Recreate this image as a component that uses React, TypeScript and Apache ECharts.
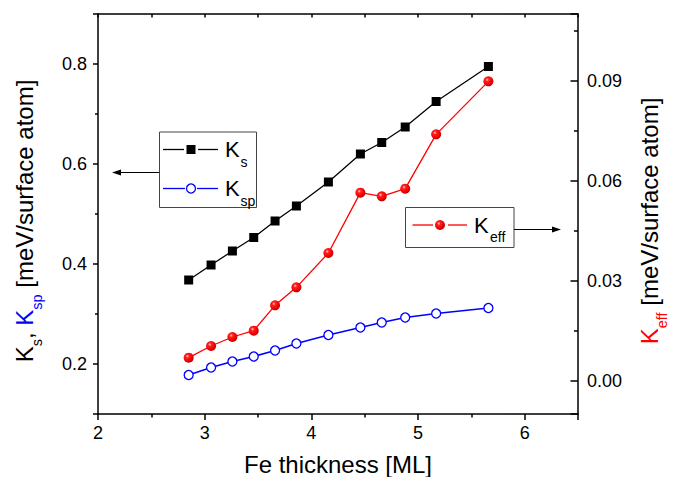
import React, { useEffect, useRef } from "react";
import * as echarts from "echarts";

const thickness = [2.85, 3.06, 3.26, 3.46, 3.66, 3.86, 4.16, 4.46, 4.66, 4.88, 5.17, 5.66];
const ksValues = [0.368, 0.398, 0.426, 0.453, 0.486, 0.516, 0.564, 0.62, 0.643, 0.674, 0.725, 0.795];
const kspValues = [0.178, 0.193, 0.205, 0.215, 0.227, 0.241, 0.258, 0.273, 0.283, 0.293, 0.301, 0.312];
const keffValues = [0.0069, 0.0104, 0.0131, 0.015, 0.0226, 0.028, 0.0383, 0.0564, 0.0553, 0.0576, 0.0739, 0.0898];

const FONT = "'Liberation Sans', Arial, Helvetica, sans-serif";

const sphere = {
  type: "radial",
  x: 0.38,
  y: 0.35,
  r: 0.7,
  colorStops: [
    { offset: 0, color: "#ffd0d0" },
    { offset: 0.25, color: "#ff2020" },
    { offset: 0.7, color: "#f00000" },
    { offset: 1, color: "#b00000" },
  ],
};

const pair = (ys: number[]) => thickness.map((x, i) => [x, ys[i]]);

export default function App() {
  const ref = useRef<HTMLDivElement>(null);
  useEffect(() => {
    if (!ref.current) return;
    const chart = echarts.init(ref.current, null, { renderer: "svg" });
    const axisLine = { show: true, onZero: false, lineStyle: { color: "#000", width: 1.5 } };
    const labelStyle = { color: "#000", fontSize: 18, fontFamily: FONT };
    const main = { fontSize: 24, fontFamily: FONT, fill: "#000", lineHeight: 40 };
    const sub = { fontSize: 14.5, fontFamily: FONT, fill: "#000", lineHeight: 14, verticalAlign: "bottom" };
    const Z = 20;
    const subText = (x: number, y: number, t: string, color: string) => ({
      type: "text",
      x,
      y,
      z: Z,
      style: { text: t, fontSize: 14, fontFamily: FONT, fill: color, verticalAlign: "middle", align: "left" },
    });
    const bigK = (x: number, y: number) => ({
      type: "text",
      x,
      y,
      z: Z,
      style: { text: "K", fontSize: 22, fontFamily: FONT, fill: "#000", verticalAlign: "middle", align: "left" },
    });
    const seg = (x1: number, x2: number, y: number, color: string) => ({
      type: "line",
      z: Z,
      shape: { x1, y1: y, x2, y2: y },
      style: { stroke: color, lineWidth: 1.3 },
    });
    chart.setOption({
      animation: false,
      grid: { left: 98, top: 14, right: 101, bottom: 63, containLabel: false },
      xAxis: [
        {
          type: "value",
          min: 2,
          max: 6.5,
          interval: 1,
          position: "bottom",
          axisLine,
          axisTick: { show: true, inside: false, length: 6, lineStyle: { color: "#000", width: 1.5 } },
          minorTick: { show: true, splitNumber: 2, length: 3.5, lineStyle: { color: "#000", width: 1.5 } },
          axisLabel: { ...labelStyle, margin: 10, showMaxLabel: false },
          splitLine: { show: false },
        },
        {
          type: "value",
          min: 2,
          max: 6.5,
          interval: 1,
          position: "top",
          axisLine,
          axisTick: { show: true, inside: true, length: 3.5, lineStyle: { color: "#000", width: 1.5 } },
          minorTick: { show: true, splitNumber: 2, length: 3.5, lineStyle: { color: "#000", width: 1.5 } },
          axisLabel: { show: false },
          splitLine: { show: false },
        },
      ],
      yAxis: [
        {
          type: "value",
          min: 0.1,
          max: 0.9,
          splitNumber: 4,
          position: "left",
          axisLine,
          axisTick: { show: true, inside: false, length: 5, lineStyle: { color: "#000", width: 1.5 } },
          minorTick: { show: true, splitNumber: 2, length: 3, lineStyle: { color: "#000", width: 1.5 } },
          axisLabel: {
            ...labelStyle,
            margin: 11,
            showMinLabel: false,
            showMaxLabel: false,
            formatter: (v: number) => v.toFixed(1),
          },
          splitLine: { show: false },
        },
        {
          type: "value",
          min: -0.01,
          max: 0.11,
          splitNumber: 4,
          position: "right",
          axisLine,
          axisTick: { show: true, inside: true, length: 7.5, lineStyle: { color: "#000", width: 1.5 } },
          minorTick: { show: true, splitNumber: 2, length: 4, lineStyle: { color: "#000", width: 1.5 } },
          axisLabel: {
            ...labelStyle,
            margin: 9,
            showMinLabel: false,
            showMaxLabel: false,
            formatter: (v: number) => v.toFixed(2),
          },
          splitLine: { show: false },
        },
      ],
      series: [
        {
          name: "Ks",
          type: "line",
          xAxisIndex: 0,
          yAxisIndex: 0,
          data: pair(ksValues),
          symbol: "rect",
          symbolSize: 9,
          lineStyle: { color: "#000", width: 1.3 },
          itemStyle: { color: "#000" },
          z: 3,
        },
        {
          name: "Ksp",
          type: "line",
          xAxisIndex: 0,
          yAxisIndex: 0,
          data: pair(kspValues),
          symbol: "circle",
          symbolSize: 9,
          lineStyle: { color: "#0000ff", width: 1.6 },
          itemStyle: { color: "#fff", borderColor: "#0000ff", borderWidth: 1.3 },
          z: 3,
        },
        {
          name: "Keff",
          type: "line",
          xAxisIndex: 0,
          yAxisIndex: 1,
          data: pair(keffValues),
          symbol: "circle",
          symbolSize: 10,
          lineStyle: { color: "#ff0000", width: 1.3 },
          itemStyle: { color: sphere, borderWidth: 0 },
          z: 3,
        },
      ],
      graphic: [
        {
          type: "text",
          x: 24,
          y: 221,
          rotation: Math.PI / 2,
          style: {
            text: "{m|K}{s|s}{m|, }{mb|K}{sb|sp}{m| [meV/surface atom]}",
            align: "center",
            verticalAlign: "middle",
            rich: {
              m: main,
              s: sub,
              mb: { ...main, fill: "#0000ff" },
              sb: { ...sub, fill: "#0000ff" },
            },
          },
        },
        {
          type: "text",
          x: 649,
          y: 221,
          rotation: Math.PI / 2,
          style: {
            text: "{mr|K}{sr|eff}{m| [meV/surface atom]}",
            align: "center",
            verticalAlign: "middle",
            rich: {
              m: main,
              mr: { ...main, fill: "#ff0000" },
              sr: { ...sub, fill: "#ff0000" },
            },
          },
        },
        {
          type: "text",
          x: 338,
          y: 464,
          style: {
            text: "Fe thickness [ML]",
            fontSize: 24,
            fontFamily: FONT,
            fill: "#000",
            align: "center",
            verticalAlign: "middle",
          },
        },
        {
          type: "rect",
          z: 10,
          shape: { x: 159.5, y: 132, width: 97, height: 75.5 },
          style: { fill: "#fff", stroke: "#444", lineWidth: 1 },
        },
        seg(163, 184, 149.5, "#000"),
        seg(198, 218, 149.5, "#000"),
        { type: "rect", z: Z + 1, shape: { x: 186.5, y: 145, width: 9, height: 9 }, style: { fill: "#000" } },
        bigK(225, 149),
        subText(240.5, 161.5, "s", "#000"),
        seg(163, 185, 188.5, "#0000ff"),
        seg(197, 218, 188.5, "#0000ff"),
        { type: "circle", z: Z + 1, shape: { cx: 191, cy: 188.5, r: 4.5 }, style: { fill: "#fff", stroke: "#0000ff", lineWidth: 1.3 } },
        bigK(225, 188),
        subText(240.5, 200.5, "sp", "#000"),
        { type: "line", z: Z, shape: { x1: 159, y1: 172.5, x2: 118, y2: 172.5 }, style: { stroke: "#000", lineWidth: 1.2 } },
        { type: "polygon", z: Z, shape: { points: [[112, 172.5], [121, 169.5], [121, 175.5]] }, style: { fill: "#000" } },
        {
          type: "rect",
          z: 10,
          shape: { x: 405.5, y: 207.5, width: 108.5, height: 40 },
          style: { fill: "#fff", stroke: "#444", lineWidth: 1 },
        },
        seg(412.5, 433, 225, "#ff0000"),
        seg(448, 467, 225, "#ff0000"),
        { type: "circle", z: Z + 1, shape: { cx: 440, cy: 225, r: 5 }, style: { fill: sphere } },
        bigK(474, 225),
        subText(490, 237, "eff", "#000"),
        { type: "line", z: Z, shape: { x1: 514, y1: 229.5, x2: 555, y2: 229.5 }, style: { stroke: "#000", lineWidth: 1.2 } },
        { type: "polygon", z: Z, shape: { points: [[561, 229.5], [552, 226.5], [552, 232.5]] }, style: { fill: "#000" } },
      ],
    });
    return () => chart.dispose();
  }, []);
  return (
    <div
      ref={ref}
      style={{ position: "fixed", left: 0, top: 0, width: 679, height: 477, background: "#fff" }}
    />
  );
}
